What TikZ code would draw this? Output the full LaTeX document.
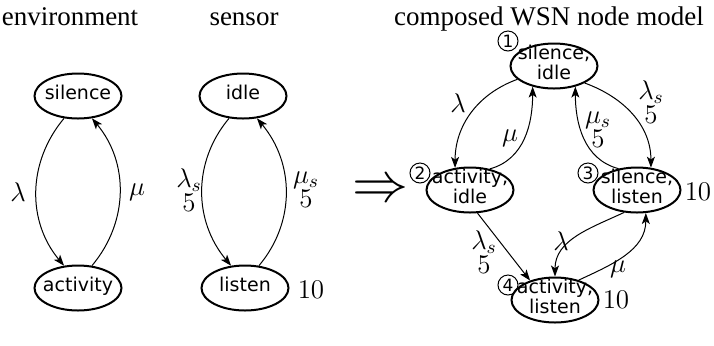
\RequirePackage{fix-cm}
\documentclass[tikz,border=0pt]{standalone}
\usepackage[no-math]{fontspec}
\setmainfont{Liberation Serif}
\newfontfamily\nodefont{DejaVu Sans}
\newcommand\tightlines{\lineskiplimit=-20pt\relax}
\usetikzlibrary{arrows.meta,calc,shapes.geometric}
\tikzset{
  st/.style={ellipse, draw, line width=1pt, inner sep=-20pt,
    minimum width=43.5pt, minimum height=22.5pt,
    text height=7.2pt, text depth=3.5pt,
    font=\nodefont\fontsize{9.5}{10.3}\selectfont\tightlines, align=center},
  cst/.style={st, text height=17.5pt, text depth=3.9pt},
  tr/.style={-{Stealth[length=5.5pt,width=4pt,inset=1.4pt]}, line width=0.5pt},
  lab/.style={font=\fontsize{13.5}{12}\selectfont\tightlines, inner sep=0pt, align=center},
  hdr/.style={font=\fontsize{13.5}{15}\selectfont, anchor=base, inner sep=0pt},
  num/.style={circle, draw, line width=0.5pt, inner sep=0pt, minimum size=10pt,
    font=\nodefont\fontsize{8.5}{8.5}\selectfont},
}
\begin{document}
\begin{tikzpicture}[x=0.5pt,y=-0.5pt]
\useasboundingbox (0,0) rectangle (714,345);
% headers
\node[hdr] (h1) at (70,25) {environment};
\node[hdr] (h2) at (244,25) {sensor};
\node[hdr] (h3) at (549,25) {composed WSN node model};
% environment
\node[st] (sil) at (78,96) {silence};
\node[st] (act) at (78,288) {activity};
\draw[tr] (sil.-122) to[out=-130,in=130] (act.122);
\draw[tr] (act.58) to[out=50,in=-50] (sil.-58);
\node[lab] (le) at (18,192) {$\lambda$};
\node[lab] (me) at (137,192) {$\mu$};
% sensor
\node[st] (idl) at (243,96) {idle};
\node[st] (lis) at (245,288) {listen};
\draw[tr] (idl.-122) to[out=-130,in=130] (lis.122);
\draw[tr] (lis.58) to[out=50,in=-50] (idl.-58);
\node[lab] (ls) at (189,190) {$\lambda_s$\\$5$};
\node[lab] (ms) at (306,190) {$\mu_s$\\$5$};
\node[lab] (tl) at (311,290) {$10$};
% implication
\node[font=\fontsize{28}{28}\selectfont, inner sep=0pt] (imp) at (380,191) {$\Rightarrow$};
% composed
\node[cst] (n1) at (554,66) {silence,\\idle};
\node[cst] (n2) at (470,190) {activity,\\idle};
\node[cst] (n3) at (637,190) {silence,\\listen};
\node[cst] (n4) at (555,300) {activity,\\listen};
\node[num] (c1) at ($(n1)+(-46,-25)$) {1};
\node[num] (c2) at ($(n2)+(-50,-17)$) {2};
\node[num] (c3) at ($(n3)+(-49,-17)$) {3};
\node[num] (c4) at ($(n4)+(-47,-15)$) {4};
\draw[tr] (n1.200) to[out=200,in=90] (n2.124);
\draw[tr] (n2.47) to[out=15,in=-90] (n1.-136);
\draw[tr] (n1.-29) to[out=-20,in=90] (n3.58);
\draw[tr] (n3.131) to[out=165,in=-90] (n1.-44);
\draw[tr] (n2.-72) -- (n4.142);
\draw[tr] (n3.-120) to[out=205,in=90] (n4.90);
\draw[tr] (n4.40) to[out=25,in=-90] (n3.-69);
\node[lab] (l12) at (458,103) {$\lambda$};
\node[lab] (l21) at (510,138) {$\mu$};
\node[lab] (l13) at (651,102) {$\lambda_s$\\$5$};
\node[lab] (l31) at (598,130) {$\mu_s$\\$5$};
\node[lab] (l24) at (484,252) {$\lambda_s$\\$5$};
\node[lab] (l34) at (561,241) {$\lambda$};
\node[lab] (l43) at (618,269) {$\mu$};
\node[lab] (t3) at (698,192) {$10$};
\node[lab] (t4) at (616,300) {$10$};
\end{tikzpicture}
\end{document}
